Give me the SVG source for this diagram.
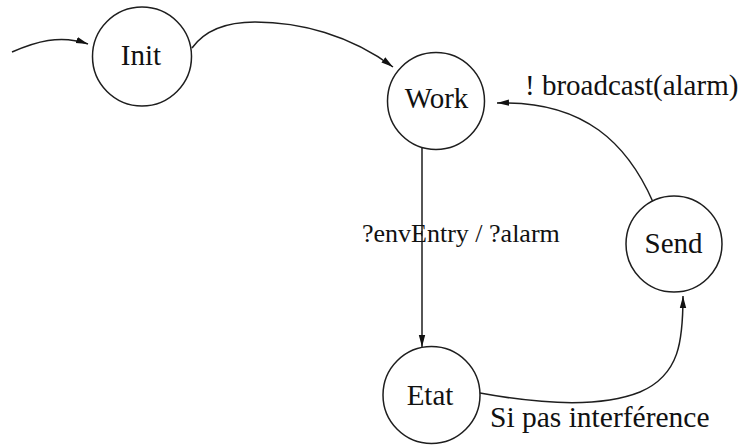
<svg xmlns="http://www.w3.org/2000/svg" width="739" height="445" viewBox="0 0 739 445">
  <defs>
    <style>
      .state { fill: #ffffff; stroke: #1e1e1e; stroke-width: 1.5; }
      .edge { fill: none; stroke: #1e1e1e; stroke-width: 1.5; marker-end: url(#head); }
      text { font-family: 'Liberation Serif', 'DejaVu Serif', 'Times New Roman', serif; fill: #111; }
      .name { font-size: 29px; text-anchor: middle; }
    </style>
    <marker id="head" viewBox="0 0 12 8" refX="12" refY="4" markerWidth="12" markerHeight="8" markerUnits="userSpaceOnUse" orient="auto">
      <path d="M0,0.8 L12,4 L0,7.2 Z" fill="#111"/>
    </marker>
  </defs>
  <rect width="739" height="445" fill="#ffffff"/>

  <!-- transitions -->
  <g id="connectors">
    <path class="edge" d="M12,52 C35,42 60,34 88,44"/>
    <path class="edge" d="M192,48 C205,30 225,22 255,22 C300,22 350,35 393,67"/>
    <path class="edge" d="M422,147 L422,347"/>
    <path class="edge" d="M653,202 C628,145 585,100 497,103"/>
    <path class="edge" d="M480,393 C540,404 600,408 640,392 C680,375 683,340 683,296"/>
    <text x="525" y="95" font-size="29" font-family="Liberation Serif, serif">! broadcast(alarm)</text>
    <text x="362" y="242" font-size="26" font-family="Liberation Serif, serif">?envEntry / ?alarm</text>
    <text x="490" y="427" font-size="29.5" font-family="Liberation Serif, serif">Si pas interférence</text>
  </g>

  <!-- states -->
  <g id="init">
    <circle class="state" cx="142" cy="56.5" r="49.5"/>
    <text class="name" x="141" y="65">Init</text>
  </g>
  <g id="work">
    <circle class="state" cx="436" cy="101" r="48.5"/>
    <text class="name" x="436.5" y="108">Work</text>
  </g>
  <g id="send">
    <circle class="state" cx="674" cy="244" r="48"/>
    <text class="name" x="673.5" y="253">Send</text>
  </g>
  <g id="etat">
    <circle class="state" cx="431.5" cy="395" r="48.5"/>
    <text class="name" x="430" y="405">Etat</text>
  </g>
</svg>
